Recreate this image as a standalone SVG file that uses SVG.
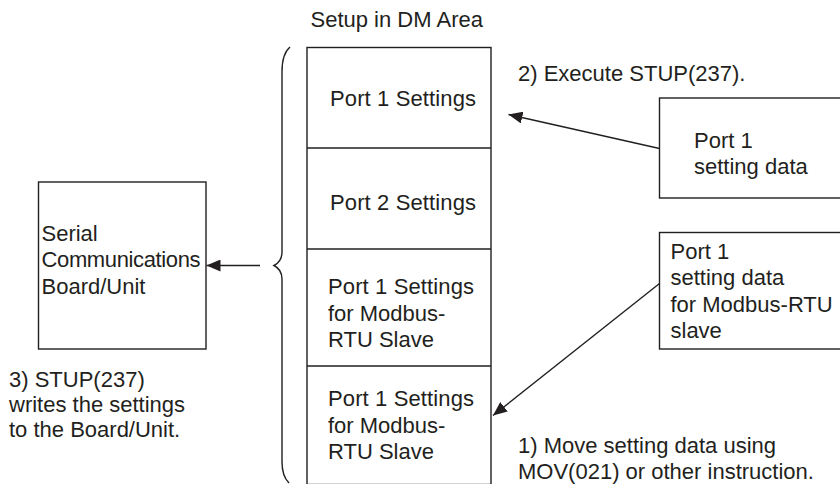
<svg xmlns="http://www.w3.org/2000/svg" width="840" height="484" viewBox="0 0 840 484">
<defs>
<style>
text{font-family:"Liberation Sans",Arial,Helvetica,sans-serif;font-size:22px;fill:#231f20}
.box{fill:none;stroke:#231f20;stroke-width:1.4}
.ln{fill:none;stroke:#231f20;stroke-width:1.4}
</style>
<marker id="ah" viewBox="0 0 14 12" refX="14" refY="6" markerWidth="14" markerHeight="12" markerUnits="userSpaceOnUse" orient="auto">
<path d="M0,0 L14,6 L0,12 z" fill="#231f20"/>
</marker>
</defs>
<rect width="840" height="484" fill="#fff"/>
<text x="310.5" y="26.5">Setup in DM Area</text>
<g id="dm-area">
<rect class="box" x="307" y="47.5" width="184" height="437"/>
<line class="ln" x1="307" y1="148" x2="491" y2="148"/>
<line class="ln" x1="307" y1="249" x2="491" y2="249"/>
<line class="ln" x1="307" y1="366" x2="491" y2="366"/>
</g>
<g id="port1-settings"><text x="330" y="106" textLength="146">Port 1 Settings</text></g>
<g id="port2-settings"><text x="330" y="210" textLength="146">Port 2 Settings</text></g>
<g id="port1-modbus-a"><text x="328" y="294" textLength="146">Port 1 Settings</text><text x="328" y="320.5">for Modbus-</text><text x="328" y="347">RTU Slave</text></g>
<g id="port1-modbus-b"><text x="328" y="406" textLength="146">Port 1 Settings</text><text x="328" y="432.5">for Modbus-</text><text x="328" y="458.5">RTU Slave</text></g>
<g id="brace"><path class="ln" d="M290,47 C284,52 282,60 282,72 L282,252 C282,259 279,263 274,265.5 C279,268 282,272 282,279 L282,462 C282,472 284,478 289,483"/></g>
<g id="serial-unit">
<rect class="box" x="38.5" y="182" width="167.5" height="167"/>
<text x="41.5" y="241">Serial</text>
<text x="41.5" y="267" textLength="159">Communications</text>
<text x="41.5" y="293.5">Board/Unit</text>
</g>
<g id="port1-data">
<rect class="box" x="659.5" y="98" width="200" height="100"/>
<text x="694" y="148">Port 1</text>
<text x="694" y="174">setting data</text>
</g>
<g id="port1-modbus-data">
<rect class="box" x="659.5" y="232.5" width="200" height="116.5"/>
<text x="670.5" y="259">Port 1</text>
<text x="670.5" y="285">setting data</text>
<text x="670.5" y="311.5">for Modbus-RTU</text>
<text x="670.5" y="338">slave</text>
</g>
<g id="connectors">
<line class="ln" x1="659.5" y1="148.5" x2="508.5" y2="114.5" marker-end="url(#ah)"/>
<line class="ln" x1="659.5" y1="283.5" x2="493" y2="415.5" marker-end="url(#ah)"/>
<line class="ln" x1="260" y1="265.5" x2="206.5" y2="265.5" marker-end="url(#ah)"/>
</g>
<g id="labels">
<text x="518" y="81">2) Execute STUP(237).</text>
<text x="518" y="453">1) Move setting data using</text>
<text x="518" y="479">MOV(021) or other instruction.</text>
<text x="9" y="386.5">3) STUP(237)</text>
<text x="9" y="412">writes the settings</text>
<text x="9" y="437">to the Board/Unit.</text>
</g>
</svg>
